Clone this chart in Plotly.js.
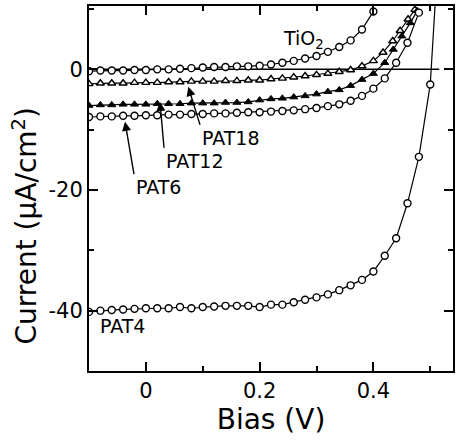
<!DOCTYPE html>
<html>
<head>
<meta charset="utf-8">
<script src="https://cdn.plot.ly/plotly-3.0.1.min.js"></script>
<style>html,body{margin:0;padding:0;background:#fff;}#chart{width:457px;height:443px;}</style>
</head>
<body>
<div id="chart"></div>
<script>
// Bias (V) values
const xTiO2 = [-0.10,-0.08,-0.06,-0.04,-0.02,0.00,0.02,0.04,0.06,0.08,0.10,0.12,0.14,0.16,0.18,0.20,0.22,0.24,0.26,0.28,0.30,0.32,0.34,0.36,0.38,0.40];
const yTiO2 = [-0.3,-0.2,-0.2,-0.2,-0.1,-0.1,0.0,0.0,0.1,0.2,0.3,0.4,0.4,0.5,0.5,0.6,0.8,1.1,1.4,1.8,2.2,2.9,3.7,4.8,6.6,9.6];

const xPAT18 = [-0.10,-0.08,-0.06,-0.04,-0.02,0.00,0.02,0.04,0.06,0.08,0.10,0.12,0.14,0.16,0.18,0.20,0.22,0.24,0.26,0.28,0.30,0.32,0.34,0.36,0.38,0.40,0.417,0.434,0.447,0.461,0.473];
const yPAT18 = [-2.4,-2.3,-2.3,-2.3,-2.2,-2.2,-2.2,-2.1,-2.1,-2.0,-2.0,-2.0,-1.9,-1.9,-1.8,-1.8,-1.6,-1.5,-1.3,-1.1,-0.9,-0.7,-0.4,-0.1,0.55,1.4,2.8,4.7,6.4,8.3,9.9];

const xPAT12 = [-0.10,-0.08,-0.06,-0.04,-0.02,0.00,0.02,0.04,0.06,0.08,0.10,0.12,0.14,0.16,0.18,0.20,0.22,0.24,0.26,0.28,0.30,0.32,0.34,0.36,0.38,0.40,0.42,0.435,0.45,0.465,0.477];
const yPAT12 = [-6.0,-5.9,-5.9,-5.8,-5.8,-5.8,-5.7,-5.7,-5.7,-5.6,-5.6,-5.6,-5.5,-5.5,-5.4,-5.1,-4.9,-4.8,-4.6,-4.4,-4.1,-3.7,-3.4,-2.7,-1.7,-0.7,1.1,3.3,5.5,7.7,9.7];

const xPAT6 = [-0.10,-0.08,-0.06,-0.04,-0.02,0.00,0.02,0.04,0.06,0.08,0.10,0.12,0.14,0.16,0.18,0.20,0.22,0.24,0.26,0.28,0.30,0.32,0.34,0.36,0.38,0.40,0.42,0.44,0.46,0.48];
const yPAT6 = [-7.9,-7.8,-7.8,-7.7,-7.7,-7.6,-7.6,-7.5,-7.5,-7.4,-7.4,-7.3,-7.3,-7.2,-7.1,-7.1,-7.0,-6.9,-6.8,-6.6,-6.4,-6.1,-5.8,-5.2,-4.4,-3.2,-1.5,1.1,4.4,9.4];

const xPAT4 = [-0.10,-0.08,-0.06,-0.04,-0.02,0.00,0.02,0.04,0.06,0.08,0.10,0.12,0.14,0.16,0.18,0.20,0.22,0.24,0.26,0.28,0.30,0.32,0.34,0.36,0.38,0.40,0.42,0.44,0.46,0.48,0.50,0.51];
const yPAT4 = [-40.2,-40.0,-39.9,-39.8,-39.7,-39.6,-39.6,-39.6,-39.4,-39.6,-39.4,-39.3,-39.2,-39.2,-39.2,-39.4,-39.0,-39.0,-38.6,-38.2,-37.8,-37.3,-36.6,-35.8,-34.9,-33.5,-30.9,-28.0,-22.2,-14.5,-2.5,13.0];

const xTickVals = [0, 0.2, 0.4];
const xTickText = ['0', '0.2', '0.4'];
const yTickVals = [0, -20, -40];
const yTickText = ['0', '-20', '-40'];

const FONT = 'DejaVu Sans, Arial, sans-serif';
const openMarker = (sym) => ({symbol: sym, size: 7, color: '#fff', line: {color: '#000', width: 1.4}});
const lineStyle = {color: '#000', width: 1.2};

const traces = [
  {name: 'TiO2', x: xTiO2, y: yTiO2, mode: 'lines+markers', line: lineStyle, marker: openMarker('circle')},
  {name: 'PAT18', x: xPAT18, y: yPAT18, mode: 'lines+markers', line: lineStyle, marker: openMarker('triangle-up')},
  {name: 'PAT12', x: xPAT12, y: yPAT12, mode: 'lines+markers', line: lineStyle, marker: {symbol: 'triangle-up', size: 7, color: '#000', line: {color: '#000', width: 1}}},
  {name: 'PAT6', x: xPAT6, y: yPAT6, mode: 'lines+markers', line: lineStyle, marker: openMarker('circle')},
  {name: 'PAT4', x: xPAT4, y: yPAT4, mode: 'lines+markers', line: lineStyle, marker: openMarker('circle')}
];

const lblFont = {family: FONT, size: 19, color: '#000'};
// label with arrow: (x,y) = arrow tip, (ax,ay) = top-left corner of label text
const arrLab = (text, x, y, ax, ay) => ({text, x, y, ax, ay, xref: 'x', yref: 'y', axref: 'x', ayref: 'y',
  xanchor: 'left', yanchor: 'top', showarrow: true, arrowhead: 2, arrowsize: 1.3, arrowwidth: 1.4, arrowcolor: '#000', font: lblFont});

const layout = {
  width: 457, height: 443,
  margin: {l: 89, r: 4, t: 6, b: 72},
  paper_bgcolor: '#fff', plot_bgcolor: '#fff',
  showlegend: false,
  font: {family: FONT, color: '#000'},
  xaxis: {
    range: [-0.1, 0.54], showgrid: false, zeroline: false,
    showline: true, linewidth: 2, linecolor: '#000', mirror: 'allticks',
    ticks: 'inside', ticklen: 9, tickwidth: 2, tickcolor: '#000',
    tickvals: xTickVals, ticktext: xTickText,
    tickfont: {family: FONT, size: 21, color: '#000'},
    minor: {tickvals: [0.1, 0.3, 0.5], ticks: 'inside', ticklen: 5, tickwidth: 2, tickcolor: '#000'},
    title: {text: 'Bias (V)', font: {family: FONT, size: 28, color: '#000'}, standoff: 6}
  },
  yaxis: {
    range: [-50, 10.5], showgrid: false, zeroline: false,
    showline: true, linewidth: 2, linecolor: '#000', mirror: 'allticks',
    ticks: 'inside', ticklen: 9, tickwidth: 2, tickcolor: '#000',
    tickvals: yTickVals, ticktext: yTickText,
    tickfont: {family: FONT, size: 21, color: '#000'},
    minor: {tickvals: [-30, -10, 10], ticks: 'inside', ticklen: 5, tickwidth: 2, tickcolor: '#000'}
  },
  shapes: [
    {type: 'line', xref: 'x', yref: 'y', x0: -0.1, x1: 0.5, y0: 0, y1: 0, layer: 'below', line: {color: '#000', width: 1.5}},
    {type: 'line', xref: 'x', yref: 'y', x0: 0.5, x1: 0.54, y0: 0, y1: 0, layer: 'below', line: {color: '#000', width: 1.5, dash: 'dash'}}
  ],
  annotations: [
    {text: 'TiO<sub>2</sub>', x: 0.2376, y: 5.0, xref: 'x', yref: 'y', xanchor: 'left', showarrow: false, font: lblFont},
    arrLab('PAT18', 0.0746, -2.9, 0.0952, -9.2),
    arrLab('PAT12', 0.0248, -5.4, 0.0319, -13.0),
    arrLab('PAT6', -0.0367, -8.7, -0.0209, -17.35),
    {text: 'PAT4', x: -0.0411, y: -42.5, xref: 'x', yref: 'y', showarrow: false, font: lblFont},
    {text: 'Current (μA/cm<sup>2</sup>)', xref: 'paper', yref: 'paper', x: -0.1758, y: 0.396, xanchor: 'center', yanchor: 'middle', textangle: -90, showarrow: false, font: {family: FONT, size: 28, color: '#000'}}
  ]
};

Plotly.newPlot('chart', traces, layout, {staticPlot: true, displayModeBar: false});
</script>
</body>
</html>
